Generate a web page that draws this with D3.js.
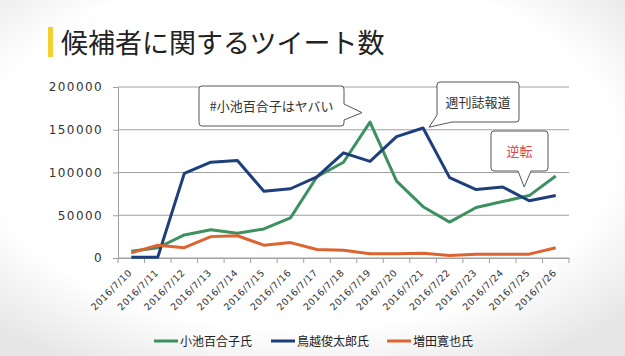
<!DOCTYPE html>
<html><head><meta charset="utf-8">
<script src="https://cdn.jsdelivr.net/npm/d3@7"></script>
<style>html,body{margin:0;padding:0;background:#fff;}svg{display:block;}</style>
</head><body>
<svg id="c" width="625" height="356"></svg>
<script>
const title = "候補者に関するツイート数";
const dates = ["2016/7/10","2016/7/11","2016/7/12","2016/7/13","2016/7/14","2016/7/15","2016/7/16","2016/7/17","2016/7/18","2016/7/19","2016/7/20","2016/7/21","2016/7/22","2016/7/23","2016/7/24","2016/7/25","2016/7/26"];
const seriesNames = ["小池百合子氏","鳥越俊太郎氏","増田寛也氏"];
const koike   = [8000,12000,27000,33000,29000,34000,47000,95000,112000,159000,90000,60000,42000,59000,66000,73000,96000];
const torigoe = [1000,1000,99000,112000,114000,78000,81000,95000,123000,113000,142000,152000,94000,80000,83000,67000,73000];
const masuda  = [6000,15000,12000,25000,26000,15000,18000,10000,9000,5000,5000,5500,3000,4500,4500,4500,12000];
const yTicks = [0,50000,100000,150000,200000];
const colors = ["#3d9160","#1d3f7c","#dc6430"];
const callouts = [
  {text:"#小池百合子はヤバい", date:"2016/7/19", value:170000, color:"#333"},
  {text:"週刊誌報道", date:"2016/7/21", value:153000, color:"#333"},
  {text:"逆転", date:"2016/7/25", value:83000, color:"#e0484e"}
];

const svg = d3.select("#c");
const W = 625, H = 356;
const defs = svg.append("defs");
const rg = defs.append("radialGradient").attr("id","bg").attr("cx","48%").attr("cy","42%").attr("r","70%");
rg.append("stop").attr("offset","0%").attr("stop-color","#ffffff");
rg.append("stop").attr("offset","72%").attr("stop-color","#ffffff");
rg.append("stop").attr("offset","100%").attr("stop-color","#e6e6e6");
svg.append("rect").attr("width",W).attr("height",H).attr("fill","url(#bg)");

// title
svg.append("rect").attr("x",48).attr("y",27).attr("width",5).attr("height",30).attr("fill","#f2d12e");
svg.append("text").attr("x",61).attr("y",53).attr("font-family","'Noto Sans CJK JP'").attr("font-size",27).attr("fill","#222").text(title);

const m = {l:118, r:569, t:87, b:258};
const x = d3.scaleBand().domain(dates).range([m.l,m.r]);
const y = d3.scaleLinear().domain([0,200000]).range([m.b,m.t]);
const cx = d => x(d) + x.bandwidth()/2;

// gridlines
svg.append("g").selectAll("line").data(yTicks).join("line")
  .attr("x1",m.l).attr("x2",m.r).attr("y1",d=>y(d)).attr("y2",d=>y(d))
  .attr("stroke","#a0a0a0").attr("stroke-width",1);

// y axis
const ya = svg.append("g").attr("transform",`translate(${m.l},0)`)
  .call(d3.axisLeft(y).tickValues(yTicks).tickSize(5).tickPadding(10).tickFormat(d3.format("d")));
ya.select(".domain").attr("stroke","#a0a0a0");
ya.selectAll(".tick line").attr("stroke","#a0a0a0");
ya.selectAll("text").attr("font-family","'DejaVu Sans'").attr("font-size",12).attr("letter-spacing","1.4px").attr("fill","#333");

// x axis
const xa = svg.append("g").attr("transform",`translate(0,${m.b})`)
  .call(d3.axisBottom(x).tickSize(0).tickFormat(""));
xa.select(".domain").attr("stroke","#a0a0a0");
const bounds = dates.map(d=>x(d)).concat([m.r]);
svg.append("g").selectAll("line").data(bounds).join("line")
  .attr("x1",d=>d).attr("x2",d=>d).attr("y1",m.b).attr("y2",m.b+5).attr("stroke","#a0a0a0");
svg.append("g").selectAll("text").data(dates).join("text")
  .attr("transform",d=>`translate(${cx(d)-1},${m.b+13}) rotate(-45)`)
  .attr("text-anchor","end").attr("dy","0.35em")
  .attr("font-family","'DejaVu Sans'").attr("font-size",9.5).attr("letter-spacing","0.5px").attr("fill","#333")
  .text(d=>d);

// lines
const series = [koike, torigoe, masuda];
const line = d3.line().x((v,i)=>cx(dates[i])).y(v=>y(v));
svg.append("g").selectAll("path").data(series).join("path")
  .attr("d",d=>line(d)).attr("fill","none").attr("stroke",(d,i)=>colors[i])
  .attr("stroke-width",3).attr("stroke-linejoin","round");

// callouts
function callout(c, box, tipPath){
  const g = svg.append("g");
  g.append("path").attr("d",tipPath).attr("fill","#fff").attr("stroke","#555").attr("stroke-width",1);
  g.append("text").attr("x",box[0]+(box[2])/2).attr("y",box[1]+box[3]/2+5)
    .attr("text-anchor","middle").attr("font-family","'Noto Sans CJK JP'").attr("font-size",13).attr("fill",c.color).text(c.text);
}
{
  const c = callouts[0];
  const tx = cx(c.date)-8, ty = y(c.value);
  const b = [199,86,145,40];
  const r=3;
  const p = `M${b[0]+r},${b[1]} H${b[0]+b[2]-r} Q${b[0]+b[2]},${b[1]} ${b[0]+b[2]},${b[1]+r} V104 L${tx},${ty} L${b[0]+b[2]},120 V${b[1]+b[3]-r} Q${b[0]+b[2]},${b[1]+b[3]} ${b[0]+b[2]-r},${b[1]+b[3]} H${b[0]+r} Q${b[0]},${b[1]+b[3]} ${b[0]},${b[1]+b[3]-r} V${b[1]+r} Q${b[0]},${b[1]} ${b[0]+r},${b[1]} Z`;
  callout(c,b,p);
}
{
  const c = callouts[1];
  const tx = cx(c.date)+6, ty = y(c.value);
  const b = [437,82,82,40];
  const r=3;
  const p = `M${b[0]+r},${b[1]} H${b[0]+b[2]-r} Q${b[0]+b[2]},${b[1]} ${b[0]+b[2]},${b[1]+r} V${b[1]+b[3]-r} Q${b[0]+b[2]},${b[1]+b[3]} ${b[0]+b[2]-r},${b[1]+b[3]} H452 L${tx},${ty} L${b[0]},${b[1]+b[3]-7} V${b[1]+r} Q${b[0]},${b[1]} ${b[0]+r},${b[1]} Z`;
  callout(c,b,p);
}
{
  const c = callouts[2];
  const tx = cx(c.date)-5, ty = y(c.value);
  const b = [491,131,57,40];
  const r=3;
  const p = `M${b[0]+r},${b[1]} H${b[0]+b[2]-r} Q${b[0]+b[2]},${b[1]} ${b[0]+b[2]},${b[1]+r} V${b[1]+b[3]-r} Q${b[0]+b[2]},${b[1]+b[3]} ${b[0]+b[2]-r},${b[1]+b[3]} H531 L${tx},${ty} L518,${b[1]+b[3]} H${b[0]+r} Q${b[0]},${b[1]+b[3]} ${b[0]},${b[1]+b[3]-r} V${b[1]+r} Q${b[0]},${b[1]} ${b[0]+r},${b[1]} Z`;
  callout(c,b,p);
}

// legend
const legX = [154,271,387];
const lg = svg.append("g").selectAll("g").data(seriesNames).join("g")
  .attr("transform",(d,i)=>`translate(${legX[i]},341)`);
lg.append("line").attr("x1",0).attr("x2",24).attr("stroke",(d,i)=>colors[i]).attr("stroke-width",3);
lg.append("text").attr("x",26).attr("y",4.5).attr("font-family","'Noto Sans CJK JP'").attr("font-size",12).attr("fill","#222").text(d=>d);
</script>
</body></html>
